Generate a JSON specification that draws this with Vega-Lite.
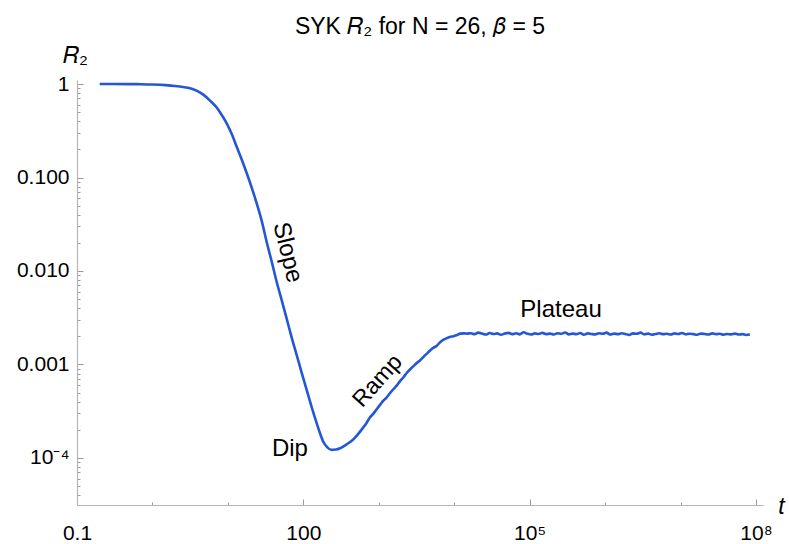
{
  "$schema": "https://vega.github.io/schema/vega-lite/v6.json",
  "width": 686,
  "height": 425,
  "autosize": "none",
  "padding": {"left": 77, "top": 80, "right": 26, "bottom": 39},
  "background": "white",
  "title": {"text": "SYK 𝑅₂ for N = 26, 𝛽 = 5", "font": "Liberation Sans", "fontSize": 23, "fontWeight": "normal", "color": "#000000", "anchor": "middle", "offset": 5},
  "config": {"view": {"stroke": null}, "font": "Liberation Sans"},
  "datasets": {
    "curve": [
      {"t": 0.2, "r": 1.0}, {"t": 0.3, "r": 0.9995}, {"t": 0.5, "r": 0.998}, {"t": 0.7, "r": 0.995},
      {"t": 1.0, "r": 0.988}, {"t": 1.5, "r": 0.972}, {"t": 2.0, "r": 0.952}, {"t": 2.54, "r": 0.929},
      {"t": 3.15, "r": 0.9}, {"t": 3.9, "r": 0.845}, {"t": 4.72, "r": 0.77}, {"t": 5.8, "r": 0.665},
      {"t": 7.11, "r": 0.56}, {"t": 8.3, "r": 0.465}, {"t": 9.64, "r": 0.38}, {"t": 11.3, "r": 0.29},
      {"t": 13.1, "r": 0.213}, {"t": 15.3, "r": 0.155}, {"t": 17.8, "r": 0.111}, {"t": 20.8, "r": 0.077},
      {"t": 24.1, "r": 0.053}, {"t": 28.2, "r": 0.034}, {"t": 32.7, "r": 0.0204}, {"t": 38.2, "r": 0.0125},
      {"t": 44.4, "r": 0.00762}, {"t": 52, "r": 0.0048}, {"t": 60.3, "r": 0.00307}, {"t": 70, "r": 0.00195},
      {"t": 81.7, "r": 0.00126}, {"t": 95, "r": 0.00082}, {"t": 111, "r": 0.000533}, {"t": 129, "r": 0.00035},
      {"t": 150, "r": 0.000237}, {"t": 166, "r": 0.000185}, {"t": 184, "r": 0.000149}, {"t": 208, "r": 0.00013},
      {"t": 238, "r": 0.000122}, {"t": 270, "r": 0.000123}, {"t": 306, "r": 0.000127}, {"t": 350, "r": 0.000135},
      {"t": 417, "r": 0.000148}, {"t": 468, "r": 0.00016}, {"t": 525, "r": 0.000178}, {"t": 617, "r": 0.00021},
      {"t": 692, "r": 0.000238}, {"t": 759, "r": 0.00027}, {"t": 832, "r": 0.000292}, {"t": 933, "r": 0.00033},
      {"t": 1047, "r": 0.000372}, {"t": 1148, "r": 0.00041}, {"t": 1259, "r": 0.00044}, {"t": 1413, "r": 0.000495},
      {"t": 1549, "r": 0.00054}, {"t": 1738, "r": 0.000598}, {"t": 1905, "r": 0.00066}, {"t": 2138, "r": 0.000735},
      {"t": 2344, "r": 0.000811}, {"t": 2630, "r": 0.000895}, {"t": 2884, "r": 0.00096}, {"t": 3162, "r": 0.00103},
      {"t": 3548, "r": 0.00111}, {"t": 3890, "r": 0.0012}, {"t": 4266, "r": 0.00129}, {"t": 4786, "r": 0.00141},
      {"t": 5248, "r": 0.0015}, {"t": 5888, "r": 0.00159}, {"t": 6457, "r": 0.00172}, {"t": 7244, "r": 0.00184},
      {"t": 7943, "r": 0.00191}, {"t": 8710, "r": 0.00197}, {"t": 9772, "r": 0.00201}, {"t": 10965, "r": 0.00207},
      {"t": 12023, "r": 0.00214}, {"t": 13490, "r": 0.00215}, {"t": 14791, "r": 0.00214},
      {"t": 16600, "r": 0.00216}, {"t": 18620, "r": 0.00211}, {"t": 20890, "r": 0.00219}, {"t": 23440, "r": 0.00214},
      {"t": 26300, "r": 0.00209}, {"t": 29510, "r": 0.00217}, {"t": 33110, "r": 0.00212}, {"t": 37150, "r": 0.00215},
      {"t": 41690, "r": 0.00208}, {"t": 46770, "r": 0.00214}, {"t": 52480, "r": 0.00218}, {"t": 58880, "r": 0.00211},
      {"t": 66070, "r": 0.00216}, {"t": 74130, "r": 0.0021}, {"t": 83180, "r": 0.00221}, {"t": 93330, "r": 0.00213},
      {"t": 104700, "r": 0.00209}, {"t": 117500, "r": 0.00215}, {"t": 131800, "r": 0.00212}, {"t": 147900, "r": 0.00218},
      {"t": 166000, "r": 0.00211}, {"t": 186200, "r": 0.00214}, {"t": 208900, "r": 0.00209}, {"t": 234400, "r": 0.00216},
      {"t": 263000, "r": 0.00213}, {"t": 295100, "r": 0.0022}, {"t": 331100, "r": 0.0021}, {"t": 371500, "r": 0.00214},
      {"t": 416900, "r": 0.00211}, {"t": 467700, "r": 0.00217}, {"t": 524800, "r": 0.00208}, {"t": 588800, "r": 0.00215},
      {"t": 660700, "r": 0.00212}, {"t": 741300, "r": 0.0021}, {"t": 831800, "r": 0.00216}, {"t": 933300, "r": 0.00213},
      {"t": 1047000, "r": 0.00219}, {"t": 1175000, "r": 0.00209}, {"t": 1318000, "r": 0.00214}, {"t": 1479000, "r": 0.00211},
      {"t": 1660000, "r": 0.00216}, {"t": 1862000, "r": 0.00212}, {"t": 2089000, "r": 0.00207}, {"t": 2344000, "r": 0.00215},
      {"t": 2630000, "r": 0.00213}, {"t": 2951000, "r": 0.00219}, {"t": 3311000, "r": 0.0021}, {"t": 3715000, "r": 0.00214},
      {"t": 4169000, "r": 0.00208}, {"t": 4677000, "r": 0.00212}, {"t": 5248000, "r": 0.00216}, {"t": 5888000, "r": 0.00211},
      {"t": 6607000, "r": 0.00213}, {"t": 7413000, "r": 0.00209}, {"t": 8318000, "r": 0.00215}, {"t": 9333000, "r": 0.00212},
      {"t": 10470000, "r": 0.00217}, {"t": 11750000, "r": 0.0021}, {"t": 13180000, "r": 0.00213}, {"t": 14790000, "r": 0.00211},
      {"t": 16600000, "r": 0.00208}, {"t": 18620000, "r": 0.00214}, {"t": 20890000, "r": 0.00212}, {"t": 23440000, "r": 0.00209},
      {"t": 26300000, "r": 0.00215}, {"t": 29510000, "r": 0.00211}, {"t": 33110000, "r": 0.00213}, {"t": 37150000, "r": 0.00208},
      {"t": 41690000, "r": 0.00212}, {"t": 46770000, "r": 0.0021}, {"t": 52480000, "r": 0.00214}, {"t": 58880000, "r": 0.00209},
      {"t": 66070000, "r": 0.00211}, {"t": 74130000, "r": 0.00207}, {"t": 83180000, "r": 0.00209}
    ],
    "notes": [
      {"t": 261000, "r": 0.00378, "label": "Plateau"},
      {"t": 66.5, "r": 0.000125, "label": "Dip"},
      {"t": 61.6, "r": 0.01577, "label": "Slope"},
      {"t": 962, "r": 0.000667, "label": "Ramp"}
    ]
  },
  "encoding": {
    "x": {
      "field": "t", "type": "quantitative",
      "scale": {"type": "log", "domain": [0.1, 124000000], "nice": false},
      "axis": {
        "values": [0.1, 1, 10, 100, 1000, 10000, 100000, 1000000, 10000000, 100000000],
        "labelExpr": "datum.value == 0.1 ? '0.1' : datum.value == 100 ? '100' : datum.value == 100000 ? '10⁵' : datum.value == 100000000 ? '10⁸' : ''",
        "labelOverlap": false, "labelFlush": false, "labelBound": false,
        "labelFont": "Liberation Sans", "labelFontSize": 21, "labelColor": "#000000",
        "labelPadding": 23,
        "grid": false, "domainColor": "#b5b5b5", "domainWidth": 1.2,
        "tickColor": "#9a9a9a", "tickWidth": 1,
        "tickSize": {"condition": {"test": "datum.value == 0.1 || datum.value == 100 || datum.value == 100000 || datum.value == 100000000", "value": -6}, "value": -3},
        "title": "t", "titleFont": "Liberation Sans", "titleFontStyle": "italic", "titleFontWeight": "normal", "titleFontSize": 23, "titleColor": "#000000",
        "titleX": 704, "titleY": 8, "titleAlign": "center", "titleBaseline": "alphabetic"
      }
    },
    "y": {
      "field": "r", "type": "quantitative",
      "scale": {"type": "log", "domain": [0.0000314, 1.104], "nice": false},
      "axis": {
        "values": [0.00004, 0.00005, 0.00006, 0.00007, 0.00008, 0.00009, 0.0001, 0.0002, 0.0003, 0.0004, 0.0005, 0.0006, 0.0007, 0.0008, 0.0009, 0.001, 0.002, 0.003, 0.004, 0.005, 0.006, 0.007, 0.008, 0.009, 0.01, 0.02, 0.03, 0.04, 0.05, 0.06, 0.07, 0.08, 0.09, 0.1, 0.2, 0.3, 0.4, 0.5, 0.6, 0.7, 0.8, 0.9, 1],
        "labelExpr": "datum.value == 1 ? '1' : datum.value == 0.1 ? '0.100' : datum.value == 0.01 ? '0.010' : datum.value == 0.001 ? '0.001' : datum.value == 0.0001 ? '10⁻⁴' : ''",
        "labelOverlap": false, "labelFlush": false, "labelBound": false,
        "labelFont": "Liberation Sans", "labelFontSize": 21, "labelColor": "#000000",
        "labelPadding": 14,
        "grid": false, "domainColor": "#b5b5b5", "domainWidth": 1.2,
        "tickColor": "#9a9a9a", "tickWidth": 1,
        "tickSize": {"condition": {"test": "datum.value == 1 || datum.value == 0.1 || datum.value == 0.01 || datum.value == 0.001 || datum.value == 0.0001", "value": -6}, "value": -3},
        "title": "𝑅₂", "titleFont": "Liberation Sans", "titleFontWeight": "normal", "titleFontSize": 23, "titleColor": "#000000",
        "titleAngle": 0, "titleX": -2, "titleY": -25, "titleAlign": "center", "titleBaseline": "middle"
      }
    }
  },
  "layer": [
    {
      "data": {"name": "curve"},
      "mark": {"type": "line", "color": "#2456d6", "strokeWidth": 2.6, "interpolate": "monotone"}
    },
    {
      "data": {"name": "notes"},
      "transform": [{"filter": "datum.label == 'Plateau' || datum.label == 'Dip'"}],
      "mark": {"type": "text", "font": "Liberation Sans", "fontSize": 24, "color": "#000000", "align": "center", "baseline": "middle"},
      "encoding": {"text": {"field": "label"}}
    },
    {
      "data": {"name": "notes"},
      "transform": [{"filter": "datum.label == 'Slope'"}],
      "mark": {"type": "text", "font": "Liberation Sans", "fontSize": 24, "color": "#000000", "align": "center", "baseline": "middle", "angle": 76},
      "encoding": {"text": {"field": "label"}}
    },
    {
      "data": {"name": "notes"},
      "transform": [{"filter": "datum.label == 'Ramp'"}],
      "mark": {"type": "text", "font": "Liberation Sans", "fontSize": 23, "color": "#000000", "align": "center", "baseline": "middle", "angle": 312},
      "encoding": {"text": {"field": "label"}}
    }
  ]
}
